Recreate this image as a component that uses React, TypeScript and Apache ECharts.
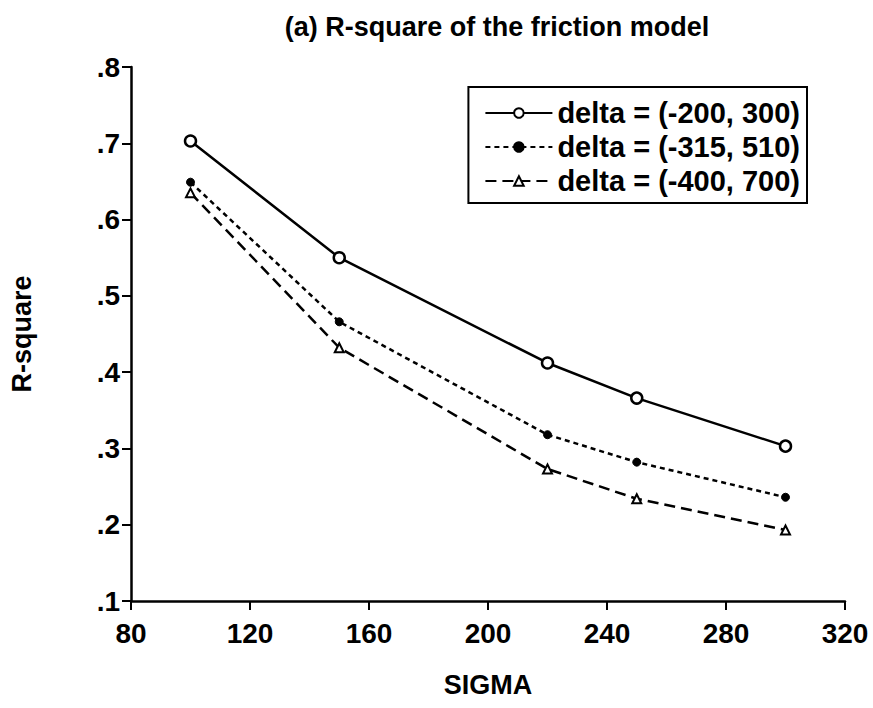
import React, { useEffect, useRef } from "react";
import * as echarts from "echarts";

const sigma = [100, 150, 220, 250, 300];
const seriesNames = ["delta = (-200, 300)", "delta = (-315, 510)", "delta = (-400, 700)"];
const rsqA = [0.703, 0.55, 0.412, 0.366, 0.303];
const rsqB = [0.649, 0.466, 0.318, 0.282, 0.236];
const rsqC = [0.635, 0.432, 0.273, 0.234, 0.193];

const FONT = "'Liberation Sans', Arial, sans-serif";

export default function App() {
  const ref = useRef<HTMLDivElement>(null);
  useEffect(() => {
    if (!ref.current) return;
    const chart = echarts.init(ref.current, undefined, { renderer: "svg" });
    const pair = (ys: number[]) => sigma.map((x, i) => [x, ys[i]]);
    chart.setOption({
      animation: false,
      backgroundColor: "#fff",
      title: {
        text: "(a) R-square of the friction model",
        left: 492,
        textAlign: "center",
        top: 8,
        textStyle: { fontFamily: FONT, fontSize: 27, fontWeight: "bold", color: "#000" },
      },
      legend: {
        orient: "vertical",
        right: 66,
        top: 87,
        padding: [11, 7, 7, 16],
        itemGap: 4,
        itemWidth: 67,
        itemHeight: 12,
        borderColor: "#000",
        borderWidth: 2,
        borderRadius: 0,
        backgroundColor: "#fff",
        textStyle: { fontFamily: FONT, fontSize: 29, fontWeight: "bold", color: "#000", lineHeight: 30 },
        data: seriesNames,
      },
      grid: { left: 131, right: 28, top: 67, bottom: 107, containLabel: false },
      xAxis: {
        type: "value",
        min: 80,
        max: 320,
        interval: 40,
        name: "SIGMA",
        nameLocation: "middle",
        nameGap: 70,
        nameTextStyle: { fontFamily: FONT, fontSize: 27, fontWeight: "bold", color: "#000" },
        axisLine: { lineStyle: { color: "#000", width: 2.5 } },
        axisTick: { show: true, length: 9, lineStyle: { color: "#000", width: 2 } },
        axisLabel: { fontFamily: FONT, fontSize: 28, fontWeight: "bold", color: "#000", margin: 18 },
        splitLine: { show: false },
      },
      yAxis: {
        type: "value",
        min: 0.1,
        max: 0.8,
        interval: 0.1,
        name: "R-square",
        nameLocation: "middle",
        nameGap: 96,
        nameRotate: 90,
        nameTextStyle: { fontFamily: FONT, fontSize: 27, fontWeight: "bold", color: "#000" },
        axisLine: { show: true, lineStyle: { color: "#000", width: 2.5 } },
        axisTick: { show: true, length: 9, lineStyle: { color: "#000", width: 2 } },
        axisLabel: {
          fontFamily: FONT,
          fontSize: 28,
          fontWeight: "bold",
          color: "#000",
          margin: 11,
          formatter: (v: number) => v.toFixed(1).replace(/^0/, ""),
        },
        splitLine: { show: false },
      },
      series: [
        {
          name: seriesNames[0],
          type: "line",
          data: pair(rsqA),
          symbol: "circle",
          symbolSize: 11,
          lineStyle: { color: "#000", width: 2.5, type: "solid" },
          itemStyle: { color: "#fff", borderColor: "#000", borderWidth: 2.5 },
        },
        {
          name: seriesNames[1],
          type: "line",
          data: pair(rsqB),
          symbol: "circle",
          symbolSize: 8,
          lineStyle: { color: "#000", width: 2.5, type: [5, 4] },
          itemStyle: { color: "#000", borderColor: "#000", borderWidth: 1 },
        },
        {
          name: seriesNames[2],
          type: "line",
          data: pair(rsqC),
          symbol: "triangle",
          symbolSize: 9,
          lineStyle: { color: "#000", width: 2.5, type: [11, 6] },
          itemStyle: { color: "#fff", borderColor: "#000", borderWidth: 2 },
        },
      ],
    });
    return () => chart.dispose();
  }, []);
  return (
    <div
      ref={ref}
      style={{ position: "fixed", left: 0, top: 0, width: 873, height: 708, overflow: "hidden" }}
    />
  );
}
